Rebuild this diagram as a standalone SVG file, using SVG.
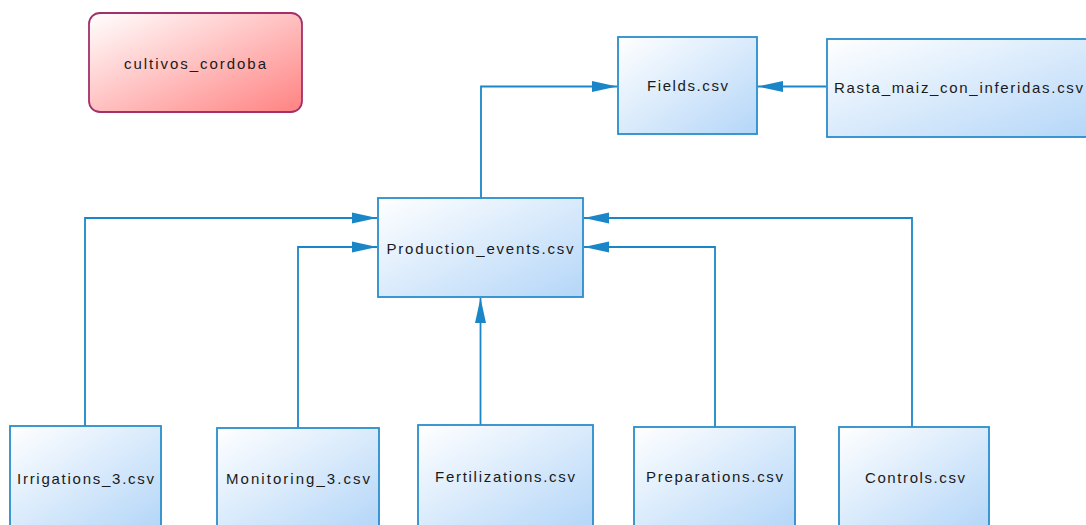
<svg xmlns="http://www.w3.org/2000/svg" width="1086" height="525" viewBox="0 0 1086 525">
<defs>
<linearGradient id="gBlue" x1="0" y1="0" x2="1" y2="1">
<stop offset="0" stop-color="#ffffff"/>
<stop offset="1" stop-color="#b4d6f8"/>
</linearGradient>
<linearGradient id="gPink" x1="0" y1="0" x2="1" y2="1">
<stop offset="0" stop-color="#ffffff"/>
<stop offset="1" stop-color="#ff8282"/>
</linearGradient>
<marker id="arr" markerUnits="userSpaceOnUse" viewBox="0 0 25 12" refX="25" refY="6" markerWidth="25" markerHeight="12" orient="auto">
<path d="M25,6 L0,0.5 L0,11.5 z" fill="#1a86c8"/>
</marker>
</defs>
<style>
.box{fill:url(#gBlue);stroke:#2a8dcb;stroke-width:1.8}
.pink{fill:url(#gPink);stroke:#a3306a;stroke-width:1.8}
.lbl{font-family:"Liberation Sans","DejaVu Sans",Arial,sans-serif;font-size:15px;fill:#1a1a1a;text-anchor:middle}
.con{fill:none;stroke:#1a86c8;stroke-width:1.8;marker-end:url(#arr)}
</style>
<rect width="1086" height="525" fill="#ffffff"/>
<g id="connectors">
<path class="con" d="M481,198 V86.5 H617"/>
<path class="con" d="M826,86.5 H758"/>
<path class="con" d="M85,426 V218 H377"/>
<path class="con" d="M298,428 V247 H377"/>
<path class="con" d="M480.5,425 V298"/>
<path class="con" d="M715,427 V247 H584"/>
<path class="con" d="M912,427 V218 H584"/>
</g>
<g id="cultivos_cordoba">
<rect class="pink" x="89" y="13" width="213" height="99" rx="11" ry="11"/>
<text class="lbl" x="195" y="69" textLength="142" lengthAdjust="spacing">cultivos_cordoba</text>
</g>
<g id="fields">
<rect class="box" x="618" y="37" width="139" height="97"/>
<text class="lbl" x="687.5" y="91" textLength="81" lengthAdjust="spacing">Fields.csv</text>
</g>
<g id="rasta">
<rect class="box" x="827" y="39" width="270" height="98"/>
<text class="lbl" x="834" y="93" style="text-anchor:start" textLength="249" lengthAdjust="spacing">Rasta_maiz_con_inferidas.csv</text>
</g>
<g id="production_events">
<rect class="box" x="378" y="198" width="205" height="99"/>
<text class="lbl" x="480" y="254" textLength="187" lengthAdjust="spacing">Production_events.csv</text>
</g>
<g id="irrigations">
<rect class="box" x="10" y="426" width="151" height="101"/>
<text class="lbl" x="85.5" y="484" textLength="137" lengthAdjust="spacing">Irrigations_3.csv</text>
</g>
<g id="monitoring">
<rect class="box" x="217" y="428" width="162" height="99"/>
<text class="lbl" x="298" y="484" textLength="144" lengthAdjust="spacing">Monitoring_3.csv</text>
</g>
<g id="fertilizations">
<rect class="box" x="418" y="425" width="175" height="102"/>
<text class="lbl" x="505" y="482" textLength="140" lengthAdjust="spacing">Fertilizations.csv</text>
</g>
<g id="preparations">
<rect class="box" x="634" y="427" width="161" height="100"/>
<text class="lbl" x="714.5" y="482" textLength="137" lengthAdjust="spacing">Preparations.csv</text>
</g>
<g id="controls">
<rect class="box" x="839" y="427" width="150" height="100"/>
<text class="lbl" x="915" y="483" textLength="100" lengthAdjust="spacing">Controls.csv</text>
</g>
</svg>
